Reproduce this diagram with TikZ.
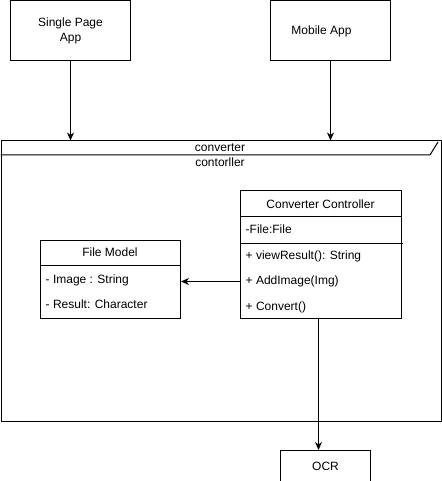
\documentclass[tikz,border=0pt]{standalone}
\usepackage{fontspec}
\setmainfont{Liberation Sans}
\usetikzlibrary{arrows.meta}
\begin{document}
\begin{tikzpicture}[x=1pt,y=-1pt]
\tikzstyle{every node}+=[inner sep=0pt, font=\fontsize{12}{15}\selectfont]
\tikzstyle{box}=[draw=black, line width=1pt, anchor=north west, align=center]
\tikzstyle{member}=[anchor=west]
\tikzstyle{arr}=[draw=black, line width=1pt, -{Stealth[length=8pt,width=7pt,inset=2.5pt]}]
\useasboundingbox (0,0) rectangle (441,481);
% clients
\node (spa) [box, minimum width=120pt, minimum height=60pt] at (10,0.5) {Single Page\\App};
\node (mob) [box, minimum width=120pt, minimum height=60pt] at (270,0.5) {Mobile App\hspace{18pt}};
% package frame
\node (frame) [box, minimum width=440pt, minimum height=280pt] at (0.5,140.5) {};
\draw [black, line width=1pt] (0.5,155) -- (430,155) -- (438,142);
\draw (220,148) node (fname) {converter};
\draw (220,162.5) node (fsub) {contorller};
% file model
\node (fm) [box, minimum width=140pt, minimum height=78pt] at (40,240) {};
\draw [black, line width=1pt] (40,265) -- (180,265);
\draw (110,252.5) node (fmtitle) {File Model};
\node (fmimg) [member] at (45.5,280) {- Image : String};
\node (fmres) [member] at (45.5,304.5) {- Result: Character};
% converter controller
\node (cc) [box, minimum width=161pt, minimum height=128pt] at (240,190) {};
\draw [black, line width=1pt] (240,216) -- (401,216);
\draw [black, line width=1pt] (240,243) -- (402.5,243);
\draw (320.5,204) node (cctitle) {Converter Controller};
\node (ccfile) [member] at (245.5,229.5) {-File:File};
\node (ccview) [member] at (245.5,256) {+ viewResult(): String};
\node (ccadd) [member] at (245.5,281.5) {+ AddImage(Img)};
\node (ccconv) [member] at (245.5,307) {+ Convert()};
% ocr
\node (ocr) [box, minimum width=90pt, minimum height=31pt] at (280,450) {OCR};
% connectors
\draw [arr] (spa.south) -- (spa.south |- frame.north);
\draw [arr] (mob.south) -- (mob.south |- frame.north);
\draw [arr] (cc.west |- ccadd) -- (fm.east |- ccadd);
\draw [arr] ([xshift=-2.5pt]cc.south) -- ([xshift=-2.5pt]cc.south |- ocr.north);
\end{tikzpicture}
\end{document}
